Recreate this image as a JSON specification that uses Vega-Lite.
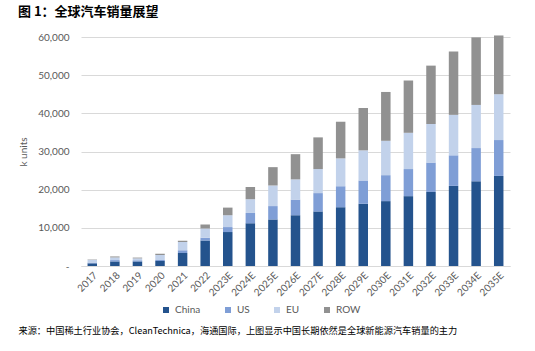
{
  "$schema": "https://vega.github.io/schema/vega-lite/v6.json",
  "autosize": {"type": "none"},
  "padding": {"left": 81, "top": 37, "right": 25, "bottom": 85},
  "width": 429,
  "height": 229,
  "background": "white",
  "title": {
    "text": "图 1：全球汽车销量展望",
    "anchor": "start",
    "frame": "group",
    "dx": -63,
    "offset": 13,
    "font": "Noto Sans CJK SC",
    "fontSize": 13,
    "fontWeight": "bold",
    "color": "#000000"
  },
  "data": {
    "values": [
      {"year": "2017", "region": "China", "v": 700}, {"year": "2017", "region": "US", "v": 200}, {"year": "2017", "region": "EU", "v": 700}, {"year": "2017", "region": "ROW", "v": 100},
      {"year": "2018", "region": "China", "v": 1200}, {"year": "2018", "region": "US", "v": 350}, {"year": "2018", "region": "EU", "v": 700}, {"year": "2018", "region": "ROW", "v": 250},
      {"year": "2019", "region": "China", "v": 1200}, {"year": "2019", "region": "US", "v": 300}, {"year": "2019", "region": "EU", "v": 500}, {"year": "2019", "region": "ROW", "v": 200},
      {"year": "2020", "region": "China", "v": 1300}, {"year": "2020", "region": "US", "v": 300}, {"year": "2020", "region": "EU", "v": 1300}, {"year": "2020", "region": "ROW", "v": 300},
      {"year": "2021", "region": "China", "v": 3400}, {"year": "2021", "region": "US", "v": 700}, {"year": "2021", "region": "EU", "v": 2200}, {"year": "2021", "region": "ROW", "v": 300},
      {"year": "2022", "region": "China", "v": 6700}, {"year": "2022", "region": "US", "v": 700}, {"year": "2022", "region": "EU", "v": 2400}, {"year": "2022", "region": "ROW", "v": 1100},
      {"year": "2023E", "region": "China", "v": 8900}, {"year": "2023E", "region": "US", "v": 1300}, {"year": "2023E", "region": "EU", "v": 3100}, {"year": "2023E", "region": "ROW", "v": 2000},
      {"year": "2024E", "region": "China", "v": 11200}, {"year": "2024E", "region": "US", "v": 2700}, {"year": "2024E", "region": "EU", "v": 3600}, {"year": "2024E", "region": "ROW", "v": 3200},
      {"year": "2025E", "region": "China", "v": 12200}, {"year": "2025E", "region": "US", "v": 3500}, {"year": "2025E", "region": "EU", "v": 5400}, {"year": "2025E", "region": "ROW", "v": 4800},
      {"year": "2026E", "region": "China", "v": 13300}, {"year": "2026E", "region": "US", "v": 4100}, {"year": "2026E", "region": "EU", "v": 5300}, {"year": "2026E", "region": "ROW", "v": 6600},
      {"year": "2027E", "region": "China", "v": 14300}, {"year": "2027E", "region": "US", "v": 4800}, {"year": "2027E", "region": "EU", "v": 6300}, {"year": "2027E", "region": "ROW", "v": 8300},
      {"year": "2028E", "region": "China", "v": 15400}, {"year": "2028E", "region": "US", "v": 5500}, {"year": "2028E", "region": "EU", "v": 7300}, {"year": "2028E", "region": "ROW", "v": 9600},
      {"year": "2029E", "region": "China", "v": 16300}, {"year": "2029E", "region": "US", "v": 6100}, {"year": "2029E", "region": "EU", "v": 7900}, {"year": "2029E", "region": "ROW", "v": 11100},
      {"year": "2030E", "region": "China", "v": 17000}, {"year": "2030E", "region": "US", "v": 6800}, {"year": "2030E", "region": "EU", "v": 9000}, {"year": "2030E", "region": "ROW", "v": 12800},
      {"year": "2031E", "region": "China", "v": 18300}, {"year": "2031E", "region": "US", "v": 7100}, {"year": "2031E", "region": "EU", "v": 9500}, {"year": "2031E", "region": "ROW", "v": 13700},
      {"year": "2032E", "region": "China", "v": 19400}, {"year": "2032E", "region": "US", "v": 7700}, {"year": "2032E", "region": "EU", "v": 10100}, {"year": "2032E", "region": "ROW", "v": 15300},
      {"year": "2033E", "region": "China", "v": 21000}, {"year": "2033E", "region": "US", "v": 8000}, {"year": "2033E", "region": "EU", "v": 10600}, {"year": "2033E", "region": "ROW", "v": 16600},
      {"year": "2034E", "region": "China", "v": 22200}, {"year": "2034E", "region": "US", "v": 8700}, {"year": "2034E", "region": "EU", "v": 11300}, {"year": "2034E", "region": "ROW", "v": 17700},
      {"year": "2035E", "region": "China", "v": 23600}, {"year": "2035E", "region": "US", "v": 9400}, {"year": "2035E", "region": "EU", "v": 12000}, {"year": "2035E", "region": "ROW", "v": 15400}
    ]
  },
  "transform": [
    {
      "lookup": "region",
      "from": {
        "data": {"values": [
          {"region": "China", "ord": 1},
          {"region": "US", "ord": 2},
          {"region": "EU", "ord": 3},
          {"region": "ROW", "ord": 4}
        ]},
        "key": "region",
        "fields": ["ord"]
      }
    }
  ],
  "mark": {"type": "bar"},
  "encoding": {
    "x": {
      "field": "year",
      "type": "ordinal",
      "scale": {"paddingInner": 0.58, "paddingOuter": 0.29},
      "axis": {
        "labelAngle": -45,
        "labelFont": "Lato",
        "labelFontSize": 10,
        "labelColor": "#595959",
        "labelPadding": 4,
        "ticks": false,
        "domainColor": "#D9D9D9",
        "title": "来源：中国稀土行业协会，CleanTechnica，海通国际，上图显示中国长期依然是全球新能源汽车销量的主力",
        "titleFont": "Noto Sans CJK SC",
        "titleFontSize": 9.2,
        "titleFontWeight": "normal",
        "titleColor": "#000000",
        "titleAlign": "left",
        "titleAnchor": "start",
        "titleBaseline": "alphabetic",
        "titleX": -63,
        "titleY": 67
      }
    },
    "y": {
      "field": "v",
      "type": "quantitative",
      "stack": "zero",
      "scale": {"domain": [0, 60000], "nice": false},
      "axis": {
        "values": [0, 10000, 20000, 30000, 40000, 50000, 60000],
        "labelExpr": "datum.value === 0 ? '-' : format(datum.value, ',')",
        "labelFont": "Lato",
        "labelFontSize": 10,
        "labelColor": "#595959",
        "labelPadding": 12,
        "ticks": false,
        "domain": false,
        "grid": true,
        "gridColor": "#D9D9D9",
        "title": "k units",
        "titleFont": "Lato",
        "titleFontSize": 10,
        "titleFontWeight": "normal",
        "titleColor": "#595959",
        "titlePadding": 9
      }
    },
    "order": {"field": "ord", "type": "quantitative", "sort": "ascending"},
    "color": {
      "field": "region",
      "type": "nominal",
      "sort": ["China", "US", "EU", "ROW"],
      "scale": {"domain": ["China", "US", "EU", "ROW"], "range": ["#24538D", "#7F9ED6", "#C2D2EB", "#919191"]},
      "legend": {
        "orient": "none",
        "direction": "horizontal",
        "legendX": 80,
        "legendY": 268,
        "title": null,
        "symbolType": "square",
        "symbolSize": 36,
        "symbolStrokeWidth": 0,
        "labelFont": "Lato",
        "labelFontSize": 10,
        "labelColor": "#595959",
        "columnPadding": 22,
        "labelOffset": 4
      }
    }
  },
  "config": {"view": {"stroke": null}}
}
